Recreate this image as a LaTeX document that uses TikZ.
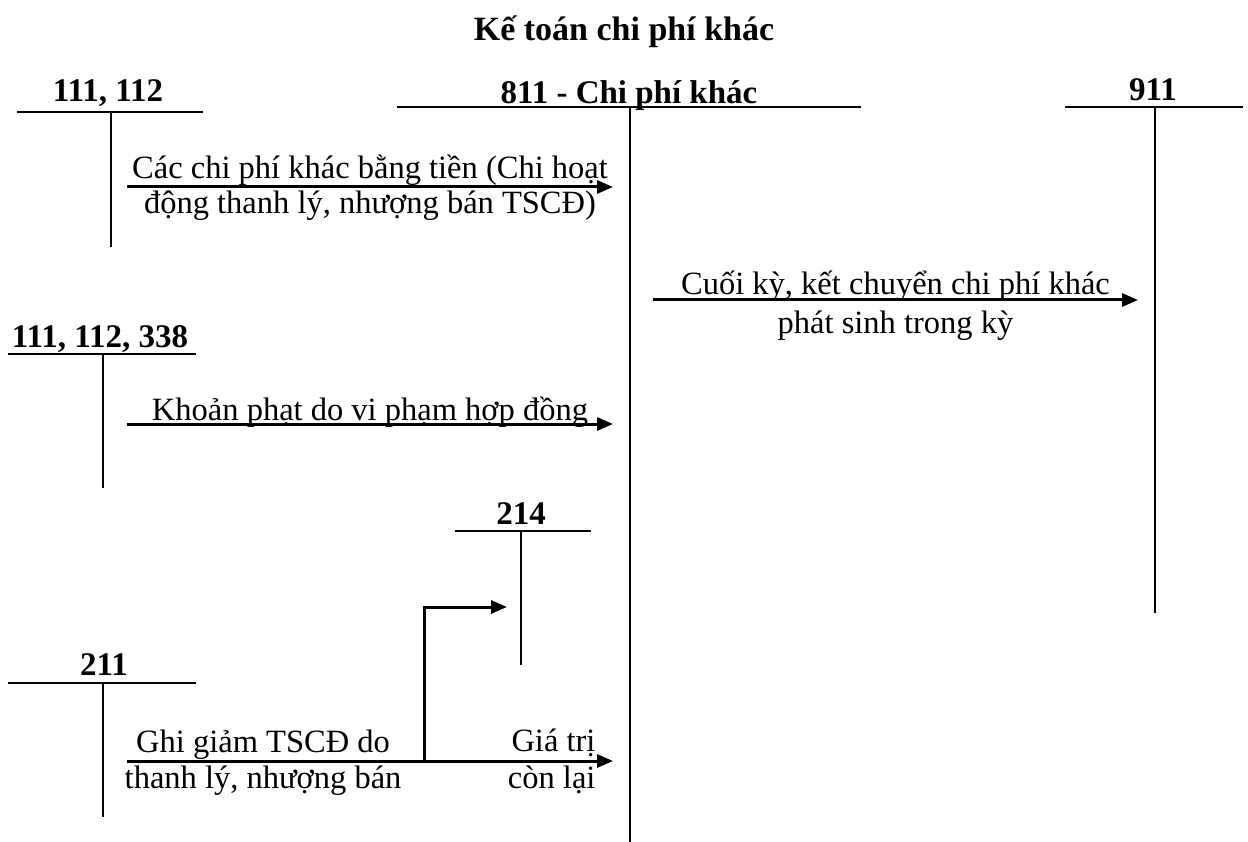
\documentclass[tikz,border=0pt]{standalone}
\usepackage{fontspec}
\setmainfont{Liberation Serif}
\usetikzlibrary{positioning, arrows.meta}
\tikzset{
  acct/.style={font=\fontsize{33}{38}\selectfont\bfseries, inner sep=0pt, anchor=base},
  note/.style={font=\fontsize{32.5}{37}\selectfont, inner sep=0pt},
  upper/.style={anchor=base, yshift=#1},
  lower/.style={anchor=base, yshift=-#1},
  tline/.style={line width=2pt},
  arrow/.style={line width=3pt, -{Triangle[length=16pt,width=13pt]}}
}

\begin{document}
\begin{tikzpicture}[x=1pt, y=-1pt, every node/.style={note}]
\useasboundingbox (0,0) rectangle (1248,842);

\node (title) [font=\fontsize{34}{40}\selectfont\bfseries, anchor=base] at (624,41) {Kế toán chi phí khác};

% tai khoan chu T
\draw[tline] (17,112) -- (203,112);
\draw[tline] (111,112) -- (111,247);
\node (k111) [acct] at (108,102) {111, 112};

\draw[tline] (397,107) -- (861,107);
\draw[tline] (630,107) -- (630,842);
\node (k811) [acct] at (629,104) {811 - Chi phí khác};

\draw[tline] (1065,107) -- (1243,107);
\draw[tline] (1155,107) -- (1155,613);
\node (k911) [acct] at (1153,101) {911};

\draw[tline] (8,354) -- (196,354);
\draw[tline] (103,354) -- (103,488);
\node (k338) [acct] at (100,348) {111, 112, 338};

\draw[tline] (455,531) -- (591,531);
\draw[tline] (521,531) -- (521,665);
\node (k214) [acct] at (521,524) {214};

\draw[tline] (8,683) -- (196,683);
\draw[tline] (103,683) -- (103,817);
\node (k211) [acct] at (104,675) {211};

% dau va cuoi cac but toan
\coordinate (s111) at (127,187);
\coordinate (d811a) at (613,187);
\coordinate (s811) at (653,300);
\coordinate (d911) at (1138,300);
\coordinate (s338) at (127,424);
\coordinate (d811b) at (613,424);
\coordinate (s211) at (127,761);
\coordinate (d811c) at (613,761);
\coordinate (tach) at (424,763);
\coordinate (d214) at (507,607);

\draw[arrow] (s111) -- node[upper=8pt] {Các chi phí khác bằng tiền (Chi hoạt}
                       node[lower=27pt] {động thanh lý, nhượng bán TSCĐ)} (d811a);
\draw[arrow] (s811) -- node[upper=5pt] {Cuối kỳ, kết chuyển chi phí khác}
                       node[lower=34pt] {phát sinh trong kỳ} (d911);
\draw[arrow] (s338) -- node[upper=4pt] {Khoản phạt do vi phạm hợp đồng} (d811b);
\draw[arrow] (s211) -- node[pos=0.28, upper=9pt] {Ghi giảm TSCĐ do}
                       node[pos=0.28, lower=27pt] {thanh lý, nhượng bán}
                       node[pos=0.967, upper=10pt, anchor=base east] {Giá trị}
                       node[pos=0.967, lower=27pt, anchor=base east] {còn lại} (d811c);
\draw[arrow] (tach) |- (d214);
\end{tikzpicture}
\end{document}
